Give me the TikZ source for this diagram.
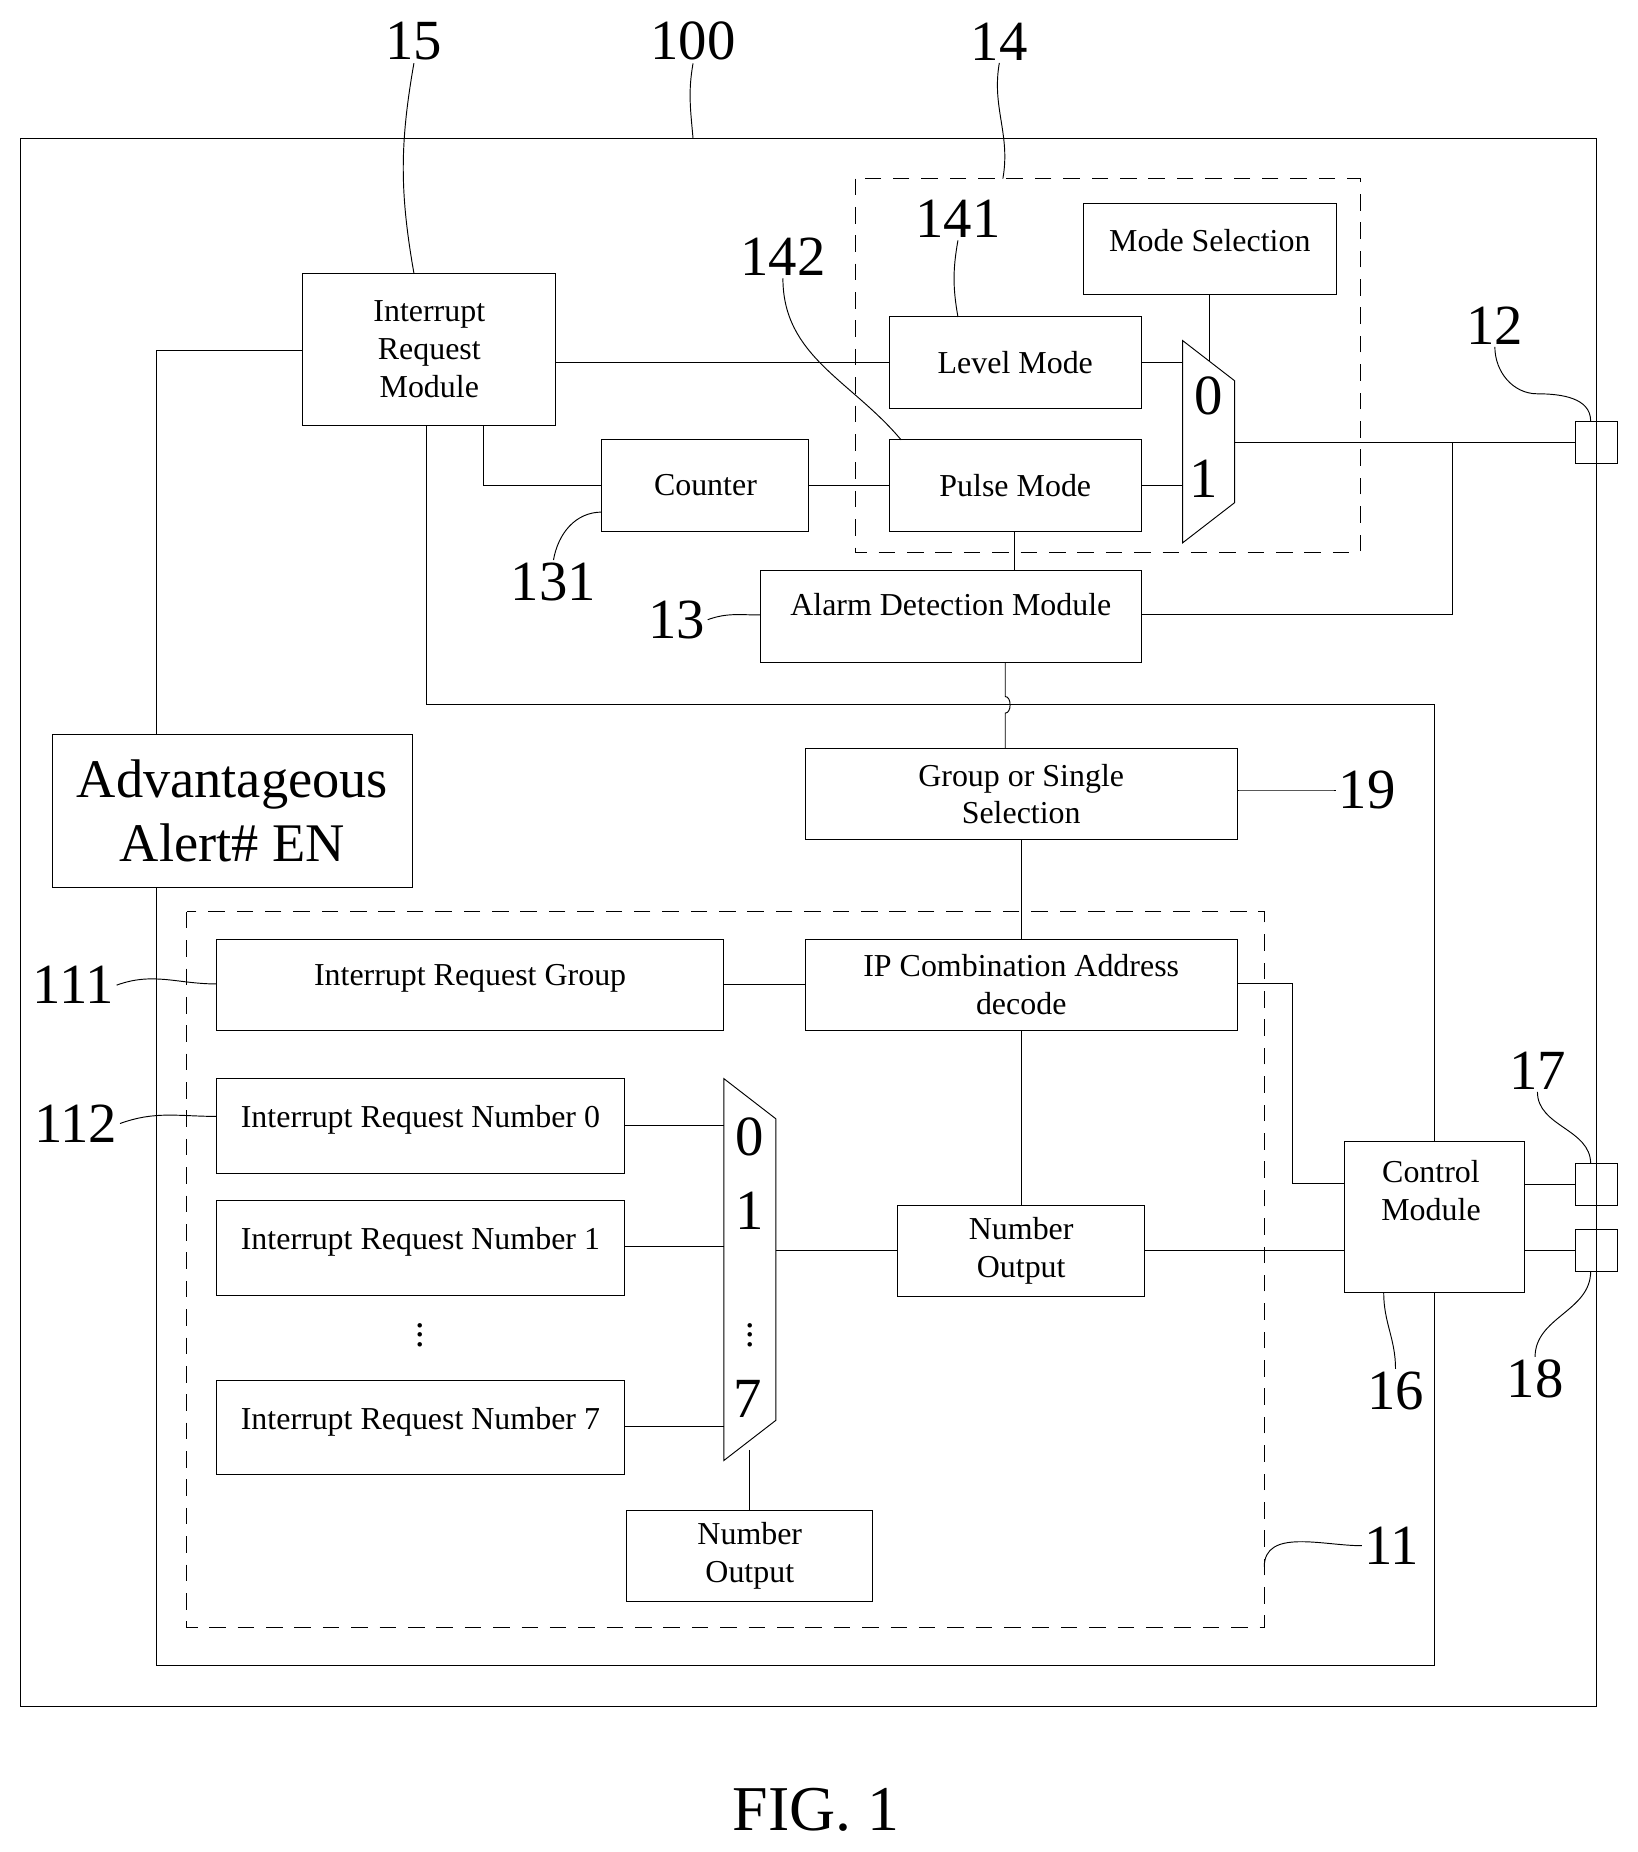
\documentclass[tikz,border=0pt]{standalone}
\usepackage{fontspec}
\setmainfont{Liberation Serif}
\usetikzlibrary{positioning}
\begin{document}
\begin{tikzpicture}[x=0.5pt,y=-0.5pt,
    box/.style={rectangle, draw, thin, align=center, inner sep=2pt, font=\fontsize{13.5}{16}\selectfont},
    port/.style={rectangle, draw, thin, minimum size=18pt, inner sep=0pt},
    num/.style={font=\fontsize{24}{28}\selectfont, inner sep=1pt},
    dots/.style={font=\fontsize{16}{16}\selectfont, inner sep=0pt},
    lead/.style={thin},
    wire/.style={thin},
    grp/.style={thin, dash pattern=on 7pt off 5pt}
]
\useasboundingbox (0,0) rectangle (1385,1566);

% Outer frames
\draw[thin] (17,117) rectangle (1350,1443);
\draw[grp] (723,151) rectangle (1150,467);
\draw[grp] (158,771) rectangle (1069,1376);

% Upper blocks
\node[box, minimum width=107pt, minimum height=64.5pt] (irm) at (363,295.5) {Interrupt\\Request\\Module};
\node[box, minimum width=106.5pt, minimum height=38.5pt] (level) at (858.5,306.5) {Level Mode};
\node[box, minimum width=87.5pt, minimum height=38.5pt] (counter) at (596.5,410.5) {Counter};
\node[box, minimum width=106.5pt, minimum height=38.5pt] (pulse) at (858.5,410.5) {Pulse Mode};
\node[box, minimum width=107pt, minimum height=38.5pt, anchor=north] (modesel) at (1023,172) {\raisebox{8pt}{Mode Selection}};
\node[box, minimum width=161pt, minimum height=39pt] (alarm) at (804,521) {\raisebox{10pt}{Alarm Detection Module}};
\node[box, minimum width=182.5pt, minimum height=38.5pt] (group) at (863.5,671.5) {Group or Single\\Selection};
\node[box, minimum width=152.5pt, minimum height=64.5pt, font=\fontsize{23}{27}\selectfont] (adv) at (196.5,685.5) {Advantageous\\Alert\# EN};

% Lower blocks
\node[box, minimum width=214.5pt, minimum height=38.5pt] (irg) at (397.5,832.5) {\raisebox{8pt}{Interrupt Request Group}};
\node[box, minimum width=182.5pt, minimum height=38.5pt] (ipdec) at (863.5,832.5) {IP Combination Address\\decode};
\node[box, minimum width=172.5pt, minimum height=40pt] (irn0) at (355.5,952) {\raisebox{8pt}{Interrupt Request Number 0}};
\node[box, minimum width=172.5pt, minimum height=40pt] (irn1) at (355.5,1055.5) {\raisebox{8pt}{Interrupt Request Number 1}};
\node[box, minimum width=172.5pt, minimum height=40pt] (irn7) at (355.5,1207) {\raisebox{8pt}{Interrupt Request Number 7}};
\node[dots] (vdots) at (355,1123) {$\vdots$};
\node[box, minimum width=104.5pt, minimum height=38.5pt] (numout) at (863.5,1057.5) {Number\\Output};
\node[box, minimum width=104pt, minimum height=38.5pt] (numout2) at (634,1315.5) {Number\\Output};
\node[box, minimum width=76pt, minimum height=64pt] (ctrl) at (1213,1029) {};
\node[box, draw=none, align=center] (ctrltext) at (1210,1007) {Control\\Module};

% Ports
\node[port] (p12) at (1350,374) {};
\node[port] (p17) at (1350,1001.5) {};
\node[port] (p18) at (1350,1057.5) {};

% Multiplexers
\draw[thin] (1000,288) -- (1044,322) -- (1044,425) -- (1000,459) -- cycle;
\node[num] at (1022,335) {0};
\node[num] at (1018,405) {1};
\draw[thin] (612,912) -- (656,946) -- (656,1201) -- (612,1235) -- cycle;
\node[num] at (634,961) {0};
\node[num] at (634,1024) {1};
\node[dots] at (634,1123) {$\vdots$};
\node[num] at (632,1183) {7};

% Connections
\draw[wire] (irm.west |- 0,296) -| (132,621) -- (adv.north -| 132,0);
\draw[wire] (adv.south -| 132,0) |- (132,1408) -| (1213,1093) -- (ctrl.south);
\draw[wire] (ctrl.north) -- (1213,596) -- (361,596) -- (irm.south -| 361,0);
\draw[wire] (irm.east |- level) -- (level.west);
\draw[wire] (level.east) -- (1000,306.5);
\draw[wire] (irm.south -| 409,0) |- (counter.west);
\draw[wire] (counter.east) -- (pulse.west);
\draw[wire] (pulse.east) -- (1000,410.5);
\draw[wire] (modesel.south) -- (1023,305);
\draw[wire] (1044,374) -- (p12.west);
\draw[wire] (pulse.south -| 858,0) -- (alarm.north -| 858,0);
\draw[wire] (alarm.east |- 0,520) -| (1228,374);
\draw[wire] (alarm.south -| 850,0) -- (850,589) to[out=0,in=0] (850,603) -- (group.north -| 850,0);
\draw[wire] (group.south) -- (ipdec.north);
\draw[wire] (irg.east) -- (ipdec.west);
\draw[wire] (ipdec.east |- 0,832) -| (1093,1001) -- (ctrl.west |- 0,1001);
\draw[wire] (ipdec.south) -- (numout.north);
\draw[wire] (656,1057.5) -- (numout.west);
\draw[wire] (numout.east) -- (ctrl.west |- numout);
\draw[wire] (ctrl.east |- p17) -- (p17.west);
\draw[wire] (ctrl.east |- p18) -- (p18.west);
\draw[wire] (irn0.east |- 0,952) -- (612,952);
\draw[wire] (irn1.east |- 0,1054) -- (612,1054);
\draw[wire] (irn7.east |- 0,1206) -- (612,1206);
\draw[wire] (634,1226) -- (numout2.north);

% Reference numerals and leaders
\node[num] (n15) at (350,35) {15};
\node[num] (n100) at (586,35) {100};
\node[num] (n14) at (845,35) {14};
\node[num] (n141) at (810,185) {141};
\node[num] (n142) at (662,217) {142};
\node[num] (n12) at (1264,275) {12};
\node[num] (n131) at (468,492) {131};
\node[num] (n13) at (572,524) {13};
\node[num] (n19) at (1156,668) {19};
\node[num] (n111) at (62,833) {111};
\node[num] (n112) at (64,950) {112};
\node[num] (n17) at (1300,905) {17};
\node[num] (n16) at (1180,1176) {16};
\node[num] (n18) at (1298,1166) {18};
\node[num] (n11) at (1177,1307) {11};
\node[font=\fontsize{27}{30}\selectfont] (fig) at (690,1530) {FIG. 1};

\draw[lead] (n15.south) to[out=-100,in=100] (350,231);
\draw[lead] (n100.south) to[out=-100,in=95] (586,117);
\draw[lead] (n14.south) to[out=-100,in=80] (848,151);
\draw[lead] (n141.south) to[out=-100,in=100] (810,268);
\draw[lead] (n142.south) to[out=-90,in=130] (762,372);
\draw[lead] (n12.south) to[out=-90,in=180] (1300,333) to[out=0,in=90] (1345,356);
\draw[lead] (n131.north) to[out=80,in=180] (509,433);
\draw[lead] (n13.east) to[out=20,in=180] (643,520);
\draw[lead] (n19.west) to[out=180,in=0] (1046,668);
\draw[lead] (n111.east) to[out=20,in=180] (183,832);
\draw[lead] (n112.east) to[out=20,in=180] (183,944);
\draw[lead] (n17.south) to[out=-90,in=90] (1345,984);
\draw[lead] (n16.north) to[out=90,in=-90] (1170,1093);
\draw[lead] (n18.north) to[out=90,in=-90] (1345,1075);
\draw[lead] (n11.west) to[out=180,in=90] (1069,1325);
\end{tikzpicture}
\end{document}
